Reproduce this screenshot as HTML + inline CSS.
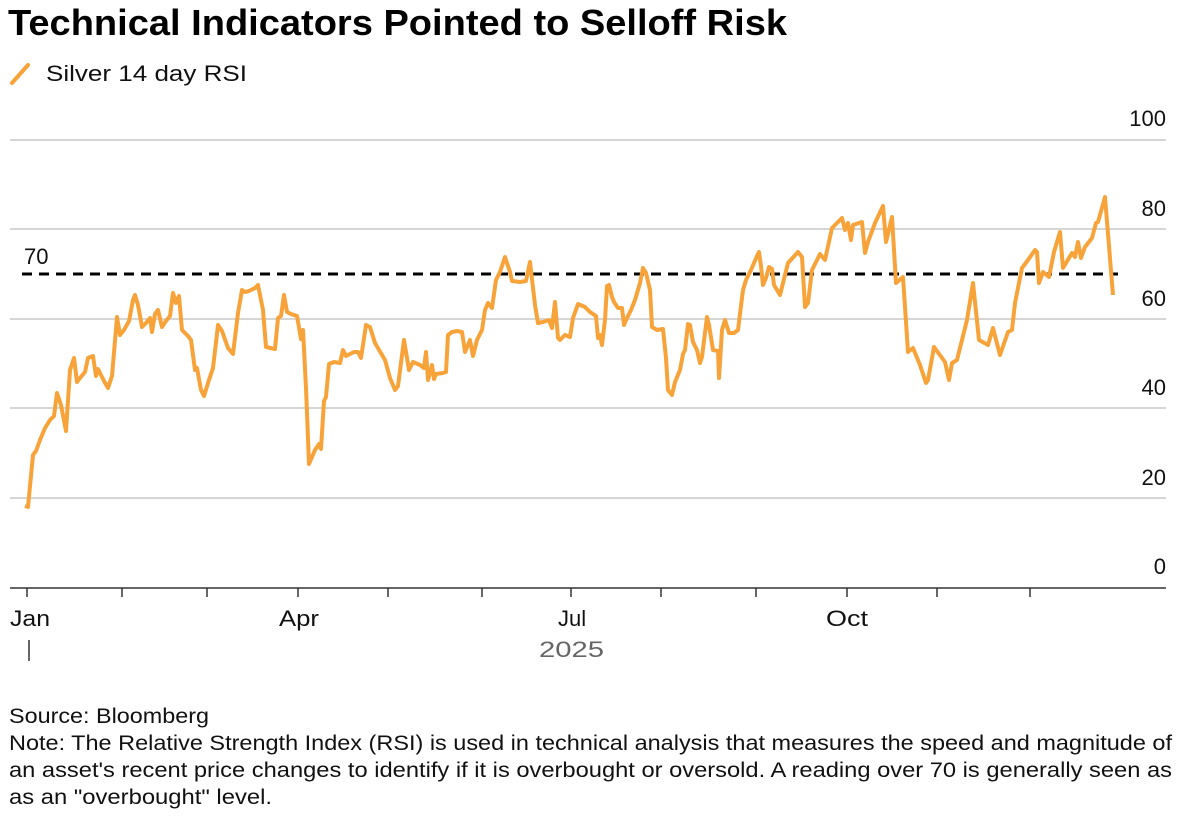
<!DOCTYPE html>
<html><head><meta charset="utf-8"><style>
body{margin:0;background:#fff;width:1182px;height:816px;overflow:hidden;font-family:"Liberation Sans",sans-serif;}
</style></head><body>
<svg width="1182" height="816" xmlns="http://www.w3.org/2000/svg" style="position:absolute;left:0;top:0">
<text x="8" y="35" font-size="36" font-weight="bold" fill="#000" textLength="779" lengthAdjust="spacingAndGlyphs">Technical Indicators Pointed to Selloff Risk</text>
<line x1="12" y1="83" x2="28" y2="65" stroke="#f7a33a" stroke-width="4" stroke-linecap="round"/>
<text x="46" y="81" font-size="22" fill="#111" textLength="201" lengthAdjust="spacingAndGlyphs">Silver 14 day RSI</text>
<g stroke="#c8c8c8" stroke-width="1.5">
<line x1="10" y1="140" x2="1166" y2="140"/><line x1="10" y1="229" x2="1166" y2="229"/>
<line x1="10" y1="319" x2="1166" y2="319"/><line x1="10" y1="408" x2="1166" y2="408"/>
<line x1="10" y1="498" x2="1166" y2="498"/></g>
<line x1="10" y1="588" x2="1166" y2="588" stroke="#333" stroke-width="1.5"/>
<g font-size="22" fill="#111" text-anchor="end">
<text x="1166" y="126">100</text><text x="1166" y="216">80</text><text x="1166" y="306">60</text>
<text x="1166" y="395">40</text><text x="1166" y="485">20</text><text x="1166" y="574">0</text></g>
<g stroke="#333" stroke-width="1.5">
<line x1="27" y1="588" x2="27" y2="597"/><line x1="122" y1="588" x2="122" y2="597"/><line x1="207" y1="588" x2="207" y2="597"/>
<line x1="298" y1="588" x2="298" y2="597"/><line x1="388" y1="588" x2="388" y2="597"/><line x1="482" y1="588" x2="482" y2="597"/>
<line x1="571" y1="588" x2="571" y2="597"/><line x1="661" y1="588" x2="661" y2="597"/><line x1="756" y1="588" x2="756" y2="597"/>
<line x1="847" y1="588" x2="847" y2="597"/><line x1="937" y1="588" x2="937" y2="597"/><line x1="1030" y1="588" x2="1030" y2="597"/>
<line x1="29" y1="640" x2="29" y2="661"/></g>
<g font-size="22" fill="#111">
<text x="10" y="626" textLength="40" lengthAdjust="spacingAndGlyphs">Jan</text>
<text x="279" y="626" textLength="40" lengthAdjust="spacingAndGlyphs">Apr</text>
<text x="558" y="626">Jul</text>
<text x="826" y="626" textLength="42" lengthAdjust="spacingAndGlyphs">Oct</text></g>
<text x="539" y="657" font-size="22" fill="#666" textLength="65" lengthAdjust="spacingAndGlyphs">2025</text>
<text x="24" y="264" font-size="22" fill="#111">70</text>
<line x1="22" y1="274" x2="1118" y2="274" stroke="#000" stroke-width="3" stroke-dasharray="10,7"/>
<polyline fill="none" stroke="#f7a33a" stroke-width="4" stroke-linejoin="round" points="25,506 28,507 33,455 36,451 40,440 45,428 50,420 54,416 57,393 61,405 66,431 70,370 74,358 77,382 80,378 85,372 88,358 93,356 96,376 98,369 104,381 108,388 112,376 117,317 120,335 124,330 129,321 133,300 135,295 138,305 142,327 146,323 150,318 152,332 155,314 158,310 162,327 166,321 170,316 173,293 176,303 179,296 182,330 188,336 191,340 195,370 197,368 201,390 204,396 208,383 213,368 218,325 222,331 228,348 233,354 238,313 242,290 245,292 249,291 255,288 258,285 263,310 266,347 275,349 278,318 281,316 284,295 287,312 291,314 297,316 301,339 303,330 306,388 309,464 315,450 319,444 321,449 324,401 326,397 329,364 334,362 340,363 343,350 346,356 350,354 354,352 358,352 361,358 366,325 370,327 375,343 385,360 390,378 395,390 398,386 404,340 409,370 413,362 420,365 424,368 426,352 428,380 432,365 434,379 436,374 443,373 446,372 448,335 452,332 457,331 462,332 465,352 470,340 473,356 477,340 482,330 485,310 488,303 492,308 496,280 500,272 505,257 510,272 512,281 520,282 526,281 530,262 535,305 538,323 543,322 549,320 552,328 555,302 558,338 560,340 565,335 570,337 573,318 578,304 585,307 590,312 596,316 598,338 600,335 602,345 605,320 607,286 609,285 612,297 614,302 618,308 622,308 624,325 627,318 631,310 635,300 640,283 643,268 646,273 650,290 652,327 657,330 663,329 666,358 668,390 672,395 675,382 680,370 683,354 685,350 688,324 690,325 693,342 697,350 700,363 702,357 707,317 709,325 713,350 718,351 719,378 722,330 725,320 729,333 734,333 738,330 743,290 746,280 751,270 757,256 759,252 761,266 763,285 766,278 769,267 772,269 774,285 780,295 788,263 798,252 802,257 805,307 808,303 812,270 820,254 825,260 832,228 842,218 845,230 848,223 851,240 853,225 862,222 865,253 868,242 875,223 883,206 886,242 892,217 896,283 903,277 908,352 913,348 920,365 926,383 928,380 934,347 945,362 949,380 952,363 957,360 967,320 973,283 979,340 988,345 993,328 1000,355 1008,332 1012,330 1015,303 1022,268 1028,260 1035,250 1037,252 1039,283 1043,272 1049,277 1054,252 1060,232 1063,268 1072,253 1075,257 1078,242 1081,258 1085,247 1092,238 1096,223 1098,222 1105,197 1113,295"/>
<g font-size="21" fill="#111">
<text x="9" y="723" textLength="200" lengthAdjust="spacingAndGlyphs">Source: Bloomberg</text>
<text x="9" y="750" textLength="1163" lengthAdjust="spacingAndGlyphs">Note: The Relative Strength Index (RSI) is used in technical analysis that measures the speed and magnitude of</text>
<text x="9" y="777" textLength="1163" lengthAdjust="spacingAndGlyphs">an asset's recent price changes to identify if it is overbought or oversold. A reading over 70 is generally seen as</text>
<text x="9" y="804" textLength="263" lengthAdjust="spacingAndGlyphs">as an "overbought" level.</text></g>
</svg>
</body></html>
